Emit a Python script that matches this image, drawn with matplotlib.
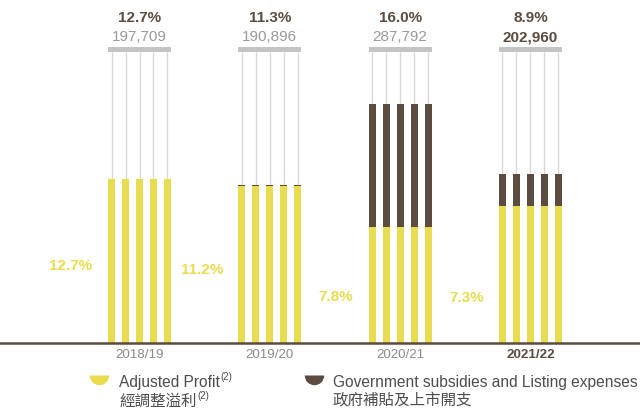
import matplotlib
matplotlib.use('Agg')
import matplotlib.pyplot as plt
from matplotlib.lines import Line2D
import numpy as np

plt.rcParams['font.family'] = ['Liberation Sans', 'Noto Sans CJK TC', 'DejaVu Sans']

# данные
years = ["2018/19", "2019/20", "2020/21", "2021/22"]
total_pct = ["12.7%", "11.3%", "16.0%", "8.9%"]
revenue = ["197,709", "190,896", "287,792", "202,960"]
profit_pct = ["12.7%", "11.2%", "7.8%", "7.3%"]
# bar heights (arbitrary units)
adjusted = [164, 157, 116, 137]
subsidies = [0, 1.5, 123, 32]

YELLOW = "#E8DC50"
BROWN = "#5B4B40"
GRAY_BAR = "#C4C4C6"
GRAY_LINE = "#D8D8D8"

fig = plt.figure(figsize=(6.4, 4.12), dpi=100)
ax = fig.add_axes([0, 0, 1, 1])
ax.set_xlim(-1.0706, 3.841)
ax.set_ylim(-69, 343)
ax.axis('off')

x = np.arange(len(years))
offsets = np.arange(-2, 3) * 0.1074
w = 0.0537
top = 291.4

for i in range(len(years)):
    xs = x[i] + offsets
    stack = adjusted[i] + subsidies[i]
    ax.vlines(xs, stack, top, color=GRAY_LINE, lw=1.0, zorder=1)
    ax.bar(xs, [adjusted[i]] * 5, width=w, color=YELLOW, zorder=2)
    ax.bar(xs, [subsidies[i]] * 5, width=w, bottom=adjusted[i], color=BROWN, zorder=2)
    ax.bar(x[i], 4.3, width=offsets[-1] - offsets[0] + w, bottom=top, color=GRAY_BAR, zorder=2)

    last = i == len(years) - 1
    ax.text(x[i], 325.5, total_pct[i], ha='center', va='center', fontsize=11,
            fontweight='bold', color=BROWN)
    ax.text(x[i], 306, revenue[i], ha='center', va='center', fontsize=11,
            fontweight='bold' if last else 'normal', color=BROWN if last else "#9A9A9A")
    ax.text(x[i], -12, years[i], ha='center', va='center', fontsize=9.6,
            fontweight='bold' if last else 'normal', color=BROWN if last else "#8A8A8A")

label_y = [77, 73, 46, 45]
for i in range(len(years)):
    ax.text(x[i] - 0.36, label_y[i], profit_pct[i], ha='right', va='center',
            fontsize=11, fontweight='bold', color=YELLOW)

ax.axhline(0, color=BROWN, lw=1.8, zorder=3)

# легенда
def legend_item(xm, xt, color, line1, line2, sup2):
    fig.add_artist(Line2D([xm / 640], [1 - 375 / 412], transform=fig.transFigure,
                          marker='o', markersize=14, fillstyle='bottom',
                          markerfacecolor=color, markerfacecoloralt='none',
                          markeredgewidth=0, linestyle='none'))
    t1 = fig.text(xt / 640, 1 - 382 / 412, line1, ha='left', va='center',
                  fontsize=11.2, color="#4D4D4D")
    t2 = fig.text(xt / 640, 1 - 401 / 412, line2, ha='left', va='center',
                  fontsize=11.2, color="#4D4D4D")
    if sup2:
        for t in (t1, t2):
            fig.add_artist(plt.Annotation("(2)", xy=(1.0, 0.85), xycoords=t,
                                          xytext=(0.5, 0), textcoords='offset points',
                                          fontsize=7, color="#4D4D4D", va='center'))

legend_item(99, 119, YELLOW, "Adjusted Profit", "經調整溢利", True)
legend_item(314, 333, BROWN, "Government subsidies and Listing expenses", "政府補貼及上市開支", False)

plt.savefig("out.png", dpi=100)
plt.close()
